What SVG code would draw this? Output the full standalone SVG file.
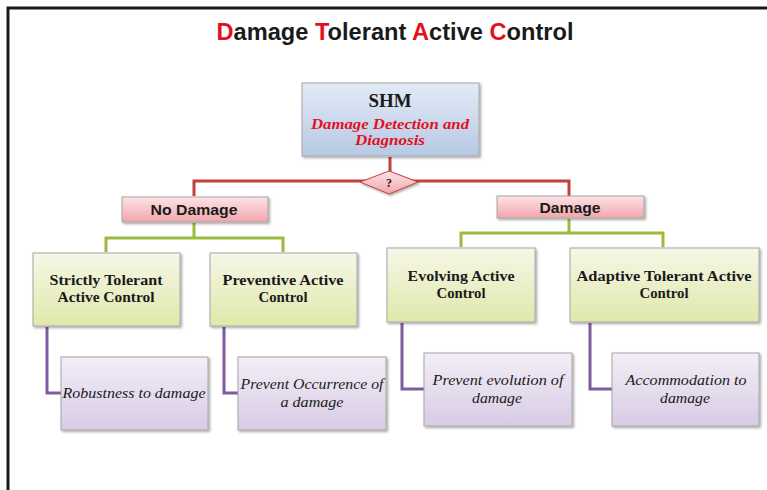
<svg xmlns="http://www.w3.org/2000/svg" width="767" height="490" viewBox="0 0 767 490">
<defs>
<linearGradient id="gBlue" x1="0" y1="0" x2="0" y2="1"><stop offset="0" stop-color="#e3eaf5"/><stop offset="1" stop-color="#b7c9e5"/></linearGradient>
<linearGradient id="gPink" x1="0" y1="0" x2="0" y2="1"><stop offset="0" stop-color="#fce4e6"/><stop offset="1" stop-color="#f2a5ab"/></linearGradient>
<linearGradient id="gGreen" x1="0" y1="0" x2="0" y2="1"><stop offset="0" stop-color="#f6f7e8"/><stop offset="1" stop-color="#e0e8aa"/></linearGradient>
<linearGradient id="gPurple" x1="0" y1="0" x2="0" y2="1"><stop offset="0" stop-color="#f3eef7"/><stop offset="1" stop-color="#d8cbe5"/></linearGradient>
<filter id="sh" x="-10%" y="-10%" width="125%" height="130%"><feDropShadow dx="1.5" dy="1.5" stdDeviation="1.2" flood-color="#000" flood-opacity="0.35"/></filter>
</defs>
<style>
.box{stroke:#a6a6a6;stroke-width:1;filter:url(#sh)}
.blue{fill:url(#gBlue)}.pink{fill:url(#gPink)}.green{fill:url(#gGreen)}.purple{fill:url(#gPurple)}
.sb{font-family:"Liberation Serif","Times New Roman",serif;font-weight:bold;font-size:15px;fill:#1a1a1a;text-anchor:middle}
.si{font-family:"Liberation Serif","Times New Roman",serif;font-style:italic;font-size:15px;fill:#1a1a1a;text-anchor:middle}
.lab{font-family:"Liberation Sans",Arial,sans-serif;font-weight:bold;font-size:15px;fill:#1a1a1a;text-anchor:middle}
.red{stroke:#c0413b;stroke-width:3;fill:none}
.grn{stroke:#9bbb3c;stroke-width:3;fill:none}
.pur{stroke:#7f5a9e;stroke-width:3;fill:none}
</style>
<rect x="0" y="0" width="767" height="490" fill="#fff"/>
<path d="M8 490 V8 H767" fill="none" stroke="#1a1a1a" stroke-width="3"/>
<text x="395" y="40" font-family="Liberation Sans,Arial,sans-serif" font-weight="bold" font-size="23" text-anchor="middle" textLength="357" lengthAdjust="spacingAndGlyphs" fill="#1a1a1a"><tspan fill="#e3101e">D</tspan>amage <tspan fill="#e3101e">T</tspan>olerant <tspan fill="#e3101e">A</tspan>ctive <tspan fill="#e3101e">C</tspan>ontrol</text>
<g id="connectors">
<path class="red" d="M390 157 V181 M194 196 V181 H569 V196"/>
<path class="grn" d="M194 223 V238 M106 252 V238 H283 V252"/>
<path class="grn" d="M569 219 V233 M461 247 V233 H663 V247"/>
<path class="pur" d="M47 327 V393 H61"/>
<path class="pur" d="M224 327 V393 H238"/>
<path class="pur" d="M402 323 V389 H424"/>
<path class="pur" d="M590 323 V389 H612"/>
</g>
<g id="shm"><rect class="box blue" x="302" y="83" width="177" height="73"/>
<text x="390" y="107" font-family="Liberation Serif,serif" font-weight="bold" font-size="19" text-anchor="middle" fill="#1a1a1a" textLength="43" lengthAdjust="spacingAndGlyphs">SHM</text>
<text x="390" y="129" font-family="Liberation Serif,serif" font-weight="bold" font-style="italic" font-size="15" text-anchor="middle" fill="#e3101e" textLength="158" lengthAdjust="spacingAndGlyphs">Damage Detection and</text>
<text x="390" y="145" font-family="Liberation Serif,serif" font-weight="bold" font-style="italic" font-size="15" text-anchor="middle" fill="#e3101e" textLength="70" lengthAdjust="spacingAndGlyphs">Diagnosis</text></g>
<g id="decision"><polygon points="360,182 389,171 418,182 389,194" fill="url(#gPink)" stroke="#c0413b" stroke-width="1" filter="url(#sh)"/>
<text x="389" y="187" font-family="Liberation Serif,serif" font-weight="bold" font-size="12" text-anchor="middle" fill="#1a1a1a">?</text></g>
<g id="nodamage"><rect class="box pink" x="122" y="197" width="146" height="25"/><text class="lab" x="194" y="215" textLength="87" lengthAdjust="spacingAndGlyphs">No Damage</text></g>
<g id="damage"><rect class="box pink" x="497" y="196" width="147" height="22"/><text class="lab" x="570" y="213" textLength="61" lengthAdjust="spacingAndGlyphs">Damage</text></g>
<g id="strictly"><rect class="box green" x="33" y="253" width="147" height="73"/><text class="sb" x="106" y="285" textLength="113" lengthAdjust="spacingAndGlyphs">Strictly Tolerant</text><text class="sb" x="106" y="302" textLength="97" lengthAdjust="spacingAndGlyphs">Active Control</text></g>
<g id="preventive"><rect class="box green" x="210" y="253" width="147" height="73"/><text class="sb" x="283" y="285" textLength="121" lengthAdjust="spacingAndGlyphs">Preventive Active</text><text class="sb" x="283" y="302" textLength="49" lengthAdjust="spacingAndGlyphs">Control</text></g>
<g id="evolving"><rect class="box green" x="387" y="248" width="148" height="74"/><text class="sb" x="461" y="281" textLength="107" lengthAdjust="spacingAndGlyphs">Evolving Active</text><text class="sb" x="461" y="298" textLength="49" lengthAdjust="spacingAndGlyphs">Control</text></g>
<g id="adaptive"><rect class="box green" x="570" y="248" width="189" height="74"/><text class="sb" x="664" y="281" textLength="175" lengthAdjust="spacingAndGlyphs">Adaptive Tolerant  Active</text><text class="sb" x="664" y="298" textLength="49" lengthAdjust="spacingAndGlyphs">Control</text></g>
<g id="robustness"><rect class="box purple" x="61" y="357" width="147" height="73"/><text class="si" x="134" y="398" textLength="143" lengthAdjust="spacingAndGlyphs">Robustness to damage</text></g>
<g id="occurrence"><rect class="box purple" x="238" y="357" width="148" height="73"/><text class="si" x="312" y="389" textLength="143" lengthAdjust="spacingAndGlyphs">Prevent Occurrence of</text><text class="si" x="312" y="407" textLength="63" lengthAdjust="spacingAndGlyphs">a damage</text></g>
<g id="evolution"><rect class="box purple" x="424" y="353" width="148" height="73"/><text class="si" x="498" y="385" textLength="131" lengthAdjust="spacingAndGlyphs">Prevent evolution of</text><text class="si" x="497" y="403" textLength="50" lengthAdjust="spacingAndGlyphs">damage</text></g>
<g id="accommodation"><rect class="box purple" x="612" y="353" width="147" height="73"/><text class="si" x="686" y="385" textLength="121" lengthAdjust="spacingAndGlyphs">Accommodation to</text><text class="si" x="685" y="403" textLength="50" lengthAdjust="spacingAndGlyphs">damage</text></g>
</svg>
